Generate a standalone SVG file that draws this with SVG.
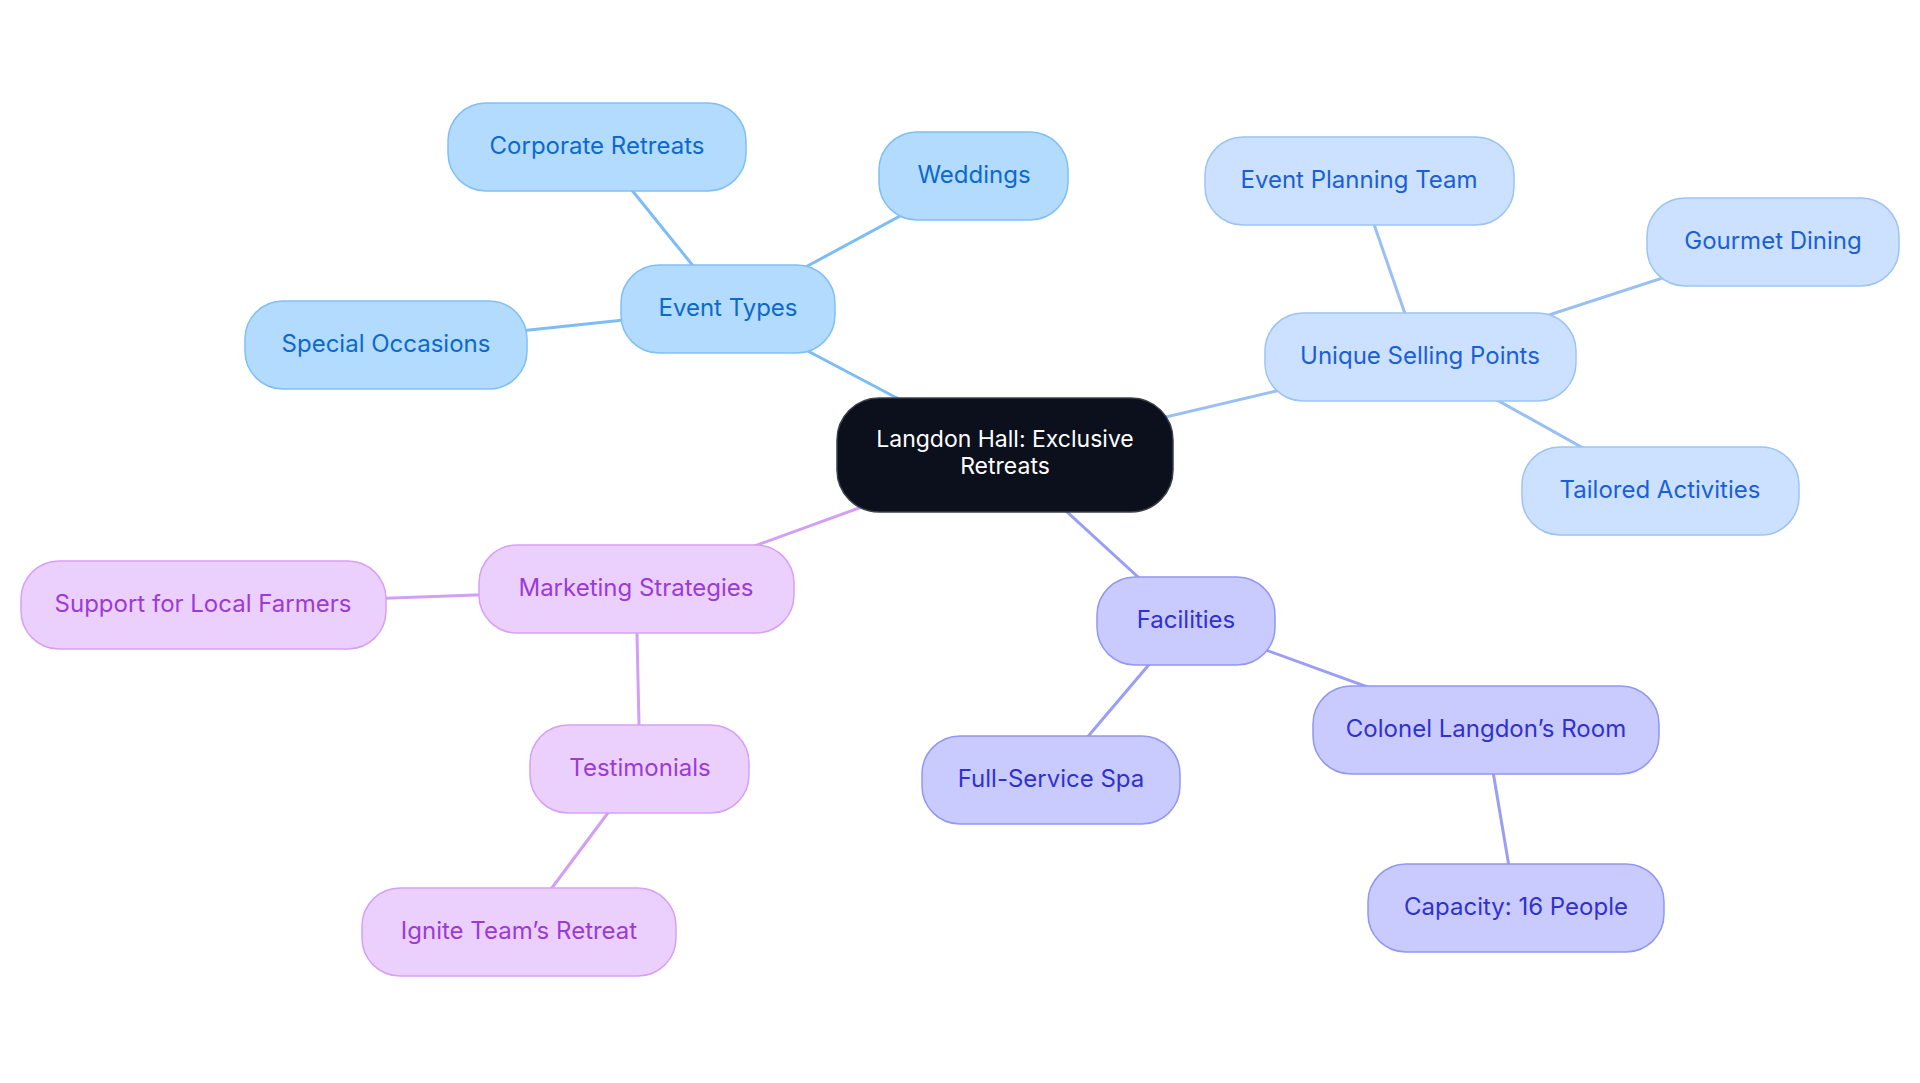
<svg xmlns="http://www.w3.org/2000/svg" width="1920" height="1083" viewBox="0 0 1920 1083">
<style>
text{font-family:Inter,"Noto Sans",sans-serif;font-size:24px;text-anchor:middle;dominant-baseline:central}
.c text{font-size:23px}
.b rect{fill:#b3dbfe;stroke:#80bff5;stroke-width:1.5}
.b text{fill:#0d69cc}
.u rect{fill:#cce1ff;stroke:#9cc3f5;stroke-width:1.5}
.u text{fill:#1a5fd6}
.f rect{fill:#c9cbfe;stroke:#9197f4;stroke-width:1.5}
.f text{fill:#3131cf}
.m rect{fill:#ebd0fe;stroke:#d7a0f6;stroke-width:1.5}
.m text{fill:#9b3bd6}
.lb{stroke:#7dbdf3}
.lu{stroke:#99c0f3}
.lf{stroke:#9a9ef4}
.lm{stroke:#d29ff4}
#edges line{stroke-width:3}
</style>
<rect width="1920" height="1083" fill="#ffffff"/>
<g id="edges">
<line class="lb" x1="1005" y1="455" x2="728" y2="309"/>
<line class="lb" x1="728" y1="309" x2="597" y2="147"/>
<line class="lb" x1="728" y1="309" x2="974" y2="176"/>
<line class="lb" x1="728" y1="309" x2="386" y2="345"/>
<line class="lu" x1="1005" y1="455" x2="1420" y2="357"/>
<line class="lu" x1="1420" y1="357" x2="1359" y2="181"/>
<line class="lu" x1="1420" y1="357" x2="1773" y2="242"/>
<line class="lu" x1="1420" y1="357" x2="1660" y2="491"/>
<line class="lf" x1="1005" y1="455" x2="1186" y2="621"/>
<line class="lf" x1="1186" y1="621" x2="1051" y2="780"/>
<line class="lf" x1="1186" y1="621" x2="1486" y2="730"/>
<line class="lf" x1="1486" y1="730" x2="1516" y2="908"/>
<line class="lm" x1="1005" y1="455" x2="636" y2="589"/>
<line class="lm" x1="636" y1="589" x2="203" y2="605"/>
<line class="lm" x1="636" y1="589" x2="640" y2="770"/>
<line class="lm" x1="640" y1="770" x2="519" y2="932"/>
</g>
<g id="center" class="c">
<rect x="837" y="398" width="336" height="114" rx="42" fill="#0b101c" stroke="#3a3f4a" stroke-width="1.5"/>
<text x="1005" y="439" fill="#ffffff">Langdon Hall: Exclusive</text>
<text x="1005" y="466" fill="#ffffff">Retreats</text>
</g>
<g id="event-types" class="b"><rect x="621" y="265" width="214" height="88" rx="38"/><text x="728" y="307">Event Types</text></g>
<g id="corporate-retreats" class="b"><rect x="448" y="103" width="298" height="88" rx="38"/><text x="597" y="145">Corporate Retreats</text></g>
<g id="weddings" class="b"><rect x="879" y="132" width="189" height="88" rx="38"/><text x="974" y="174">Weddings</text></g>
<g id="special-occasions" class="b"><rect x="245" y="301" width="282" height="88" rx="38"/><text x="386" y="343">Special Occasions</text></g>
<g id="unique-selling-points" class="u"><rect x="1265" y="313" width="311" height="88" rx="38"/><text x="1420" y="355">Unique Selling Points</text></g>
<g id="event-planning-team" class="u"><rect x="1205" y="137" width="309" height="88" rx="38"/><text x="1359" y="179">Event Planning Team</text></g>
<g id="gourmet-dining" class="u"><rect x="1647" y="198" width="252" height="88" rx="38"/><text x="1773" y="240">Gourmet Dining</text></g>
<g id="tailored-activities" class="u"><rect x="1522" y="447" width="277" height="88" rx="38"/><text x="1660" y="489">Tailored Activities</text></g>
<g id="facilities" class="f"><rect x="1097" y="577" width="178" height="88" rx="38"/><text x="1186" y="619">Facilities</text></g>
<g id="full-service-spa" class="f"><rect x="922" y="736" width="258" height="88" rx="38"/><text x="1051" y="778">Full-Service Spa</text></g>
<g id="colonel-langdons-room" class="f"><rect x="1313" y="686" width="346" height="88" rx="38"/><text x="1486" y="728">Colonel Langdon’s Room</text></g>
<g id="capacity" class="f"><rect x="1368" y="864" width="296" height="88" rx="38"/><text x="1516" y="906">Capacity: 16 People</text></g>
<g id="marketing-strategies" class="m"><rect x="479" y="545" width="315" height="88" rx="38"/><text x="636" y="587">Marketing Strategies</text></g>
<g id="support-local-farmers" class="m"><rect x="21" y="561" width="365" height="88" rx="38"/><text x="203" y="603">Support for Local Farmers</text></g>
<g id="testimonials" class="m"><rect x="530" y="725" width="219" height="88" rx="38"/><text x="640" y="767">Testimonials</text></g>
<g id="ignite-teams-retreat" class="m"><rect x="362" y="888" width="314" height="88" rx="38"/><text x="519" y="930">Ignite Team’s Retreat</text></g>
</svg>
